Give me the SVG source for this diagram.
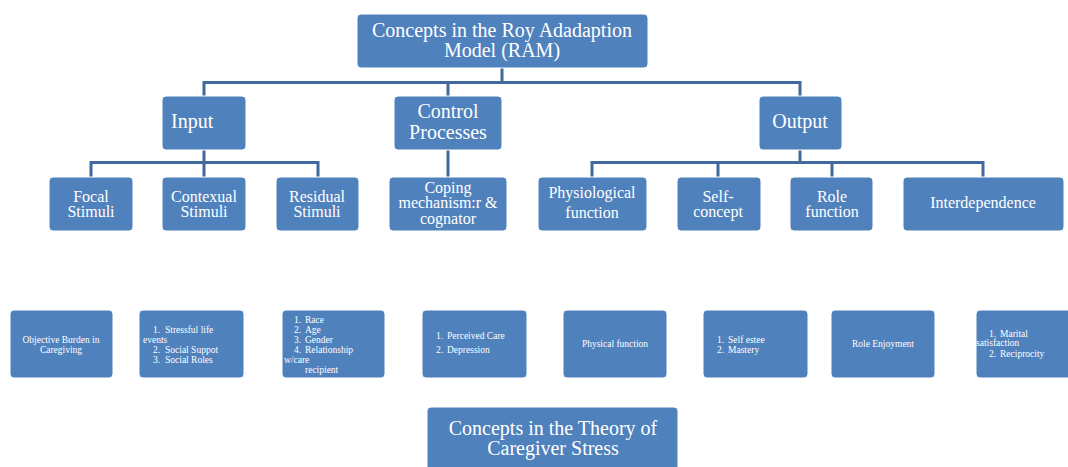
<svg xmlns="http://www.w3.org/2000/svg" width="1068" height="467" viewBox="0 0 1068 467">
<style>
.box{fill:#4f81bd;stroke:#ffffff;stroke-width:1}
.t{font-family:"Liberation Serif","DejaVu Serif",serif;fill:#ffffff}
.c{text-anchor:middle}
.l1{font-size:20px}
.l2{font-size:20px}
.l3{font-size:16px}
.l4{font-size:9.5px}
.conn{fill:none;stroke:#41699c;stroke-width:3}
</style>
<rect width="1068" height="467" fill="#ffffff"/>
<g id="connectors">
<path class="conn" d="M502 68 V82.5 M204 96 V82.5 H800 V96 M448 82.5 V96"/>
<path class="conn" d="M204 150 V162.5 M91 177 V162.5 H318 V177 M204 162.5 V177"/>
<path class="conn" d="M448 150 V177"/>
<path class="conn" d="M800 150 V162.5 M592 177 V162.5 H983 V177 M718 162.5 V177 M832 162.5 V177"/>
</g>
<g id="root">
<rect class="box" x="357" y="14" width="291" height="54" rx="4"/>
<text class="t c l1" x="502" y="37">Concepts in the Roy Adadaption</text>
<text class="t c l1" x="502" y="57">Model (RAM)</text>
</g>
<g id="input">
<rect class="box" x="162" y="96" width="84" height="54" rx="4"/>
<text class="t l2" x="171" y="128">Input</text>
</g>
<g id="control">
<rect class="box" x="394" y="96" width="108" height="54" rx="4"/>
<text class="t c l2" x="448" y="118">Control</text>
<text class="t c l2" x="448" y="139">Processes</text>
</g>
<g id="output">
<rect class="box" x="759" y="96" width="83" height="54" rx="4"/>
<text class="t c l2" x="800" y="128">Output</text>
</g>
<g id="focal">
<rect class="box" x="49" y="177" width="84" height="54" rx="4"/>
<text class="t c l3" x="91" y="202">Focal</text>
<text class="t c l3" x="91" y="217">Stimuli</text>
</g>
<g id="contexual">
<rect class="box" x="162" y="177" width="84" height="54" rx="4"/>
<text class="t c l3" x="204" y="202">Contexual</text>
<text class="t c l3" x="204" y="217">Stimuli</text>
</g>
<g id="residual">
<rect class="box" x="276" y="177" width="83" height="54" rx="4"/>
<text class="t c l3" x="317" y="202">Residual</text>
<text class="t c l3" x="317" y="217">Stimuli</text>
</g>
<g id="coping">
<rect class="box" x="389" y="177" width="118" height="54" rx="4"/>
<text class="t c l3" x="448" y="193">Coping</text>
<text class="t c l3" x="448" y="208">mechanism:r &amp;</text>
<text class="t c l3" x="448" y="224">cognator</text>
</g>
<g id="physiological">
<rect class="box" x="538" y="177" width="109" height="54" rx="4"/>
<text class="t c l3" x="592" y="198">Physiological</text>
<text class="t c l3" x="592" y="218">function</text>
</g>
<g id="selfconcept">
<rect class="box" x="677" y="177" width="84" height="54" rx="4"/>
<text class="t c l3" x="718" y="202">Self-</text>
<text class="t c l3" x="718" y="217">concept</text>
</g>
<g id="rolefunction">
<rect class="box" x="790" y="177" width="83" height="54" rx="4"/>
<text class="t c l3" x="832" y="202">Role</text>
<text class="t c l3" x="832" y="217">function</text>
</g>
<g id="interdependence">
<rect class="box" x="903" y="177" width="161" height="54" rx="4"/>
<text class="t c l3" x="983" y="208">Interdependence</text>
</g>
<g id="objective">
<rect class="box" x="10" y="310" width="103" height="68" rx="4"/>
<text class="t c l4" x="61" y="343">Objective  Burden in</text>
<text class="t c l4" x="61" y="353">Caregiving</text>
</g>
<g id="stressful">
<rect class="box" x="139" y="310" width="105" height="68" rx="4"/>
<text class="t l4" y="333"><tspan x="153">1.</tspan><tspan x="165">Stressful  life</tspan></text>
<text class="t l4" x="143" y="343">events</text>
<text class="t l4" y="353"><tspan x="153">2.</tspan><tspan x="165">Social Suppot</tspan></text>
<text class="t l4" y="363"><tspan x="153">3.</tspan><tspan x="165">Social Roles</tspan></text>
</g>
<g id="race">
<rect class="box" x="282" y="310" width="103" height="68" rx="4"/>
<text class="t l4" y="323"><tspan x="294">1.</tspan><tspan x="305">Race</tspan></text>
<text class="t l4" y="333"><tspan x="294">2.</tspan><tspan x="305">Age</tspan></text>
<text class="t l4" y="343"><tspan x="294">3.</tspan><tspan x="305">Gender</tspan></text>
<text class="t l4" y="353"><tspan x="294">4.</tspan><tspan x="305">Relationship</tspan></text>
<text class="t l4" x="284" y="363">w/care</text>
<text class="t l4" x="305" y="373">recipient</text>
</g>
<g id="perceived">
<rect class="box" x="422" y="310" width="105" height="68" rx="4"/>
<text class="t l4" y="339"><tspan x="436">1.</tspan><tspan x="447">Perceived Care</tspan></text>
<text class="t l4" y="353"><tspan x="436">2.</tspan><tspan x="447">Depression</tspan></text>
</g>
<g id="physical">
<rect class="box" x="563" y="310" width="104" height="68" rx="4"/>
<text class="t c l4" x="615" y="347">Physical function</text>
</g>
<g id="selfestee">
<rect class="box" x="703" y="310" width="105" height="68" rx="4"/>
<text class="t l4" y="343"><tspan x="717">1.</tspan><tspan x="728">Self estee</tspan></text>
<text class="t l4" y="353"><tspan x="717">2.</tspan><tspan x="728">Mastery</tspan></text>
</g>
<g id="roleenjoyment">
<rect class="box" x="831" y="310" width="104" height="68" rx="4"/>
<text class="t c l4" x="883" y="347">Role Enjoyment</text>
</g>
<g id="marital">
<rect class="box" x="976" y="310" width="100" height="68" rx="4"/>
<text class="t l4" y="337"><tspan x="989">1.</tspan><tspan x="1000">Marital</tspan></text>
<text class="t l4" x="976" y="346">satisfaction</text>
<text class="t l4" y="357"><tspan x="989">2.</tspan><tspan x="1000">Reciprocity</tspan></text>
</g>
<g id="caregiver">
<rect class="box" x="427" y="407" width="251" height="70" rx="4"/>
<text class="t c l1" x="553" y="435">Concepts in the Theory of</text>
<text class="t c l1" x="553" y="455">Caregiver Stress</text>
</g>
</svg>
